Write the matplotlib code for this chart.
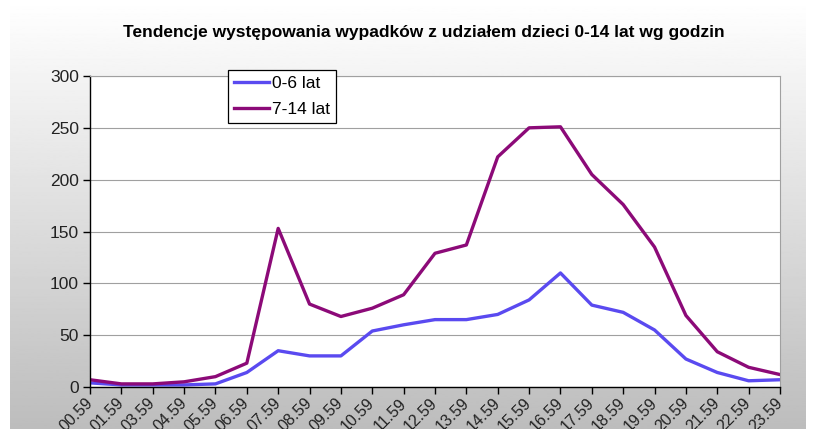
import numpy as np
import matplotlib
matplotlib.use('Agg')
import matplotlib.pyplot as plt

plt.rcParams['font.family'] = ['Liberation Sans', 'DejaVu Sans']

hours = ['00.59', '01.59', '03.59', '04.59', '05.59', '06.59', '07.59', '08.59',
         '09.59', '10.59', '11.59', '12.59', '13.59', '14.59', '15.59', '16.59',
         '17.59', '18.59', '19.59', '20.59', '21.59', '22.59', '23.59']
kids_0_6 = [4, 2, 2, 2, 3, 14, 35, 30, 30, 54, 60, 65, 65, 70, 84, 110,
            79, 72, 55, 27, 14, 6, 7]
kids_7_14 = [7, 3, 3, 5, 10, 23, 153, 80, 68, 76, 89, 129, 137, 222, 250, 251,
             205, 176, 135, 69, 34, 19, 12]

W, H = 814, 429
fig = plt.figure(figsize=(W / 100, H / 100), dpi=100)

# tło wykresu - gradient biały -> szary
bg = fig.add_axes([0, 0, 1, 1], zorder=-1)
grad = np.linspace(1.0, 0.74, 256).reshape(-1, 1)
bg.imshow(grad, aspect='auto', cmap='gray', vmin=0, vmax=1,
          extent=[10, 806, 0, H], origin='upper')
bg.set_xlim(0, W)
bg.set_ylim(0, H)
bg.axis('off')

ax = fig.add_axes([90 / W, (H - 387) / H, (780 - 90) / W, (387 - 76) / H])
ax.set_facecolor('white')
x = np.arange(len(hours))
ax.plot(x, kids_0_6, color='#5a4af0', lw=2.4, label='0-6 lat')
ax.plot(x, kids_7_14, color='#8c0a78', lw=2.4, label='7-14 lat')

ax.set_xlim(0, len(hours) - 1)
ax.set_ylim(0, 300)
ax.set_yticks(range(0, 301, 50))
ax.set_xticks(x)
ax.set_xticklabels(hours, rotation=45, ha='right', va='center',
                   rotation_mode='anchor', fontsize=11.5, color='#222222')
ax.tick_params(axis='y', labelsize=12.5, labelcolor='#222222', direction='out',
               length=5, width=1, pad=3)
ax.tick_params(axis='x', direction='out', length=5, width=1, pad=5)
ax.yaxis.grid(True, color='#a0a0a0', lw=0.8)
ax.set_axisbelow(True)
for s in ['top', 'right']:
    ax.spines[s].set_color('#a0a0a0')
    ax.spines[s].set_linewidth(0.8)
for s in ['left', 'bottom']:
    ax.spines[s].set_color('black')
    ax.spines[s].set_linewidth(1)

leg = ax.legend(loc='upper left', bbox_to_anchor=(228 / W, 1 - 70 / H),
                bbox_transform=fig.transFigure, fontsize=12.5, frameon=True,
                fancybox=False, framealpha=1, edgecolor='black',
                handlelength=2.0, handletextpad=0.2, borderpad=0.35,
                labelspacing=0.6, borderaxespad=0)
leg.get_frame().set_linewidth(0.9)

fig.text(424 / W, 1 - 33 / H, 'Tendencje występowania wypadków z udziałem dzieci 0-14 lat wg godzin',
         ha='center', va='center', fontsize=12.5, fontweight='bold', color='black')

fig.savefig('out.png', dpi=100)
